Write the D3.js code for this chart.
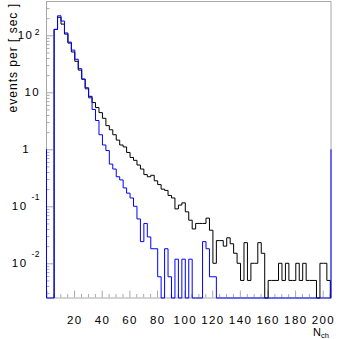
<!DOCTYPE html>
<html>
<head>
<meta charset="utf-8">
<script src="https://cdn.jsdelivr.net/npm/d3@7"></script>
<style>
  body { margin: 0; background: #fff; }
  svg { display: block; font-family: "Liberation Sans", Arial, sans-serif; }
</style>
</head>
<body>
<script>
// histogram binning (N_ch)
const binStart = 5.5;
const binWidth = 2.5;

// all events (black)
const allValues = [
  127, 207, 157, 105, 73, 51, 35, 24.5, 17, 12,
  8.5, 6.6, 5.4, 4.4, 3.5, 2.6, 2.2, 1.8, 1.45, 1.19,
  1.1, 0.88, 0.72, 0.64, 0.53, 0.45, 0.36, 0.33, 0.35, 0.28,
  0.24, 0.2, 0.19, 0.155, 0.14, 0.09, 0.105, 0.115, 0.08, 0.057,
  0.04, 0.05, 0.05, 0.05, 0.062, 0.038, 0.01, 0.025, 0.025, 0.02,
  0.028, 0.022, 0.015, 0.01, 0.005, 0.023, 0.005, 0.01, 0.01, 0.023,
  0.015, 0, 0.005, 0.005, 0.005, 0.01, 0.005, 0.01, 0.005, 0.005,
  0.01, 0.005, 0.01, 0.005, 0.005, 0.005, 0, 0.01, 0.01, 0.005
];

// selected events (blue)
const selValues = [
  127, 220, 178, 110, 76, 55, 38, 26, 17, 11.5,
  8, 5, 3.2, 1.8, 1.19, 0.95, 0.55, 0.45, 0.33, 0.29,
  0.21, 0.17, 0.14, 0.1, 0.06, 0.024, 0.05, 0.029, 0.018, 0.018,
  0.0058, 0, 0.018, 0.0058, 0, 0.0118, 0, 0.0118, 0, 0.0118,
  0, 0, 0, 0.024, 0.018, 0.0058, 0.0058, 0, 0, 0,
  0, 0, 0, 0, 0, 0, 0, 0, 0, 0,
  0, 0, 0, 0, 0, 0, 0, 0, 0, 0,
  0, 0, 0, 0, 0, 0, 0, 0, 0, 0
];

const xMajorTicks = [0, 20, 40, 60, 80, 100, 120, 140, 160, 180, 200];
const xTickLabels = [20, 40, 60, 80, 100, 120, 140, 160, 180, 200];
const yMajorTicks = [0.01, 0.1, 1, 10, 100];
const yTickLabels = [["10", "-2"], ["10", "-1"], ["1", ""], ["10", ""], ["10", "2"]];

const width = 343, height = 339;
const frameLeft = 46.5, frameRight = 331, frameTop = 1.5, frameBottom = 298;
const axisColor = "#a8a8a8";

const svg = d3.select("body").append("svg")
  .attr("width", width).attr("height", height);

const x = d3.scaleLinear().domain([0, 206]).range([frameLeft, frameRight]);
const y = d3.scaleLog().domain([0.00246, 384]).range([frameBottom, frameTop + 0.5]);
const yv = v => v > 0 ? y(v) : frameBottom;

// minor ticks
const xMinorTicks = d3.range(0, 206, 5).filter(v => v % 20 !== 0);
const yMinorTicks = [];
for (let d = -3; d <= 2; d++) {
  for (let k = 2; k <= 9; k++) {
    const v = k * Math.pow(10, d);
    if (v > y.domain()[0] && v < y.domain()[1]) yMinorTicks.push(v);
  }
}

function styleAxis(g) {
  g.select(".domain").remove();
  g.selectAll(".tick line").attr("stroke", axisColor);
}

svg.append("g").attr("transform", `translate(0,${frameBottom - 0.5})`)
  .call(d3.axisBottom(x).tickValues(xMajorTicks).tickSize(-7).tickFormat(""))
  .call(styleAxis);
svg.append("g").attr("transform", `translate(0,${frameBottom - 0.5})`)
  .call(d3.axisBottom(x).tickValues(xMinorTicks).tickSize(-3.5).tickFormat(""))
  .call(styleAxis);
svg.append("g").attr("transform", `translate(${frameLeft - 0.5},0)`)
  .call(d3.axisLeft(y).tickValues(yMajorTicks).tickSize(-7).tickFormat(""))
  .call(styleAxis);
svg.append("g").attr("transform", `translate(${frameLeft - 0.5},0)`)
  .call(d3.axisLeft(y).tickValues(yMinorTicks).tickSize(-3.5).tickFormat(""))
  .call(styleAxis);

// frame
svg.append("rect")
  .attr("x", frameLeft).attr("y", frameTop)
  .attr("width", frameRight - frameLeft).attr("height", frameBottom - frameTop)
  .attr("fill", "none").attr("stroke", axisColor);

// step histograms
const edges = allValues.map((d, i) => binStart + i * binWidth);
const lastEdge = binStart + allValues.length * binWidth;

const step = d3.line()
  .x(d => x(d[0]))
  .y(d => yv(d[1]))
  .curve(d3.curveStepAfter);

const allPts = [[binStart, 0]]
  .concat(allValues.map((v, i) => [edges[i], v]))
  .concat([[lastEdge, 0]]);

const selPts = [[0, 1], [0, 0]]
  .concat(selValues.map((v, i) => [edges[i], v]))
  .concat([[lastEdge, 0], [206, 1]]);

svg.append("path")
  .attr("d", step(allPts))
  .attr("fill", "none").attr("stroke", "#000").attr("stroke-width", 1);

svg.append("path")
  .attr("d", step(selPts))
  .attr("fill", "none").attr("stroke", "#0000ff").attr("stroke-width", 1);

// x tick labels
svg.append("g").selectAll("text")
  .data(xTickLabels)
  .join("text")
  .attr("x", d => x(d) + 0.7)
  .attr("y", 323.5)
  .attr("text-anchor", "middle")
  .attr("font-size", 11.5)
  .attr("letter-spacing", 1.4)
  .text(d => d);

// y tick labels
const yl = svg.append("g").selectAll("text")
  .data(yMajorTicks.map((v, i) => ({ v, base: yTickLabels[i][0], exp: yTickLabels[i][1] })))
  .join("text")
  .attr("x", d => d.base === "1" ? 30 : 40)
  .attr("y", d => y(d.v) + 4)
  .attr("text-anchor", "end")
  .attr("font-size", 11.5)
  .attr("letter-spacing", 1.4);
yl.append("tspan").text(d => d.base);
yl.filter(d => d.exp !== "").append("tspan")
  .attr("font-size", 8.5)
  .attr("letter-spacing", 0.5)
  .attr("dx", d => d.exp.startsWith("-") ? 4 : 1.5)
  .attr("dy", d => d.exp.startsWith("-") ? -10.5 : -4.5)
  .text(d => d.exp);

// axis titles
svg.append("text")
  .attr("transform", "translate(17,3) rotate(-90)")
  .attr("text-anchor", "end")
  .attr("font-size", 12)
  .attr("letter-spacing", 1)
  .text("events per [ sec ]");

const xt = svg.append("text")
  .attr("x", 313).attr("y", 336)
  .attr("font-size", 11);
xt.append("tspan").text("N");
xt.append("tspan").attr("font-size", 7.5).attr("dy", 2).text("ch");
</script>
</body>
</html>
